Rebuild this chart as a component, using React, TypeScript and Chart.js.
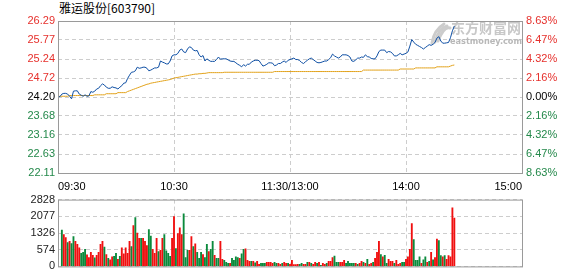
import React, { useEffect, useRef } from "react";
import { Chart, registerables } from "chart.js";
Chart.register(...registerables);

const TITLE = "雅运股份[603790]";
const WATERMARK_CN = "东方财富网";
const WATERMARK_EN = "eastmoney.com";

const PRICE_TICKS = [22.11, 22.63, 23.16, 23.68, 24.2, 24.72, 25.24, 25.77, 26.29];
const PCT_LABELS = ["8.63%", "6.47%", "4.32%", "2.16%", "0.00%", "2.16%", "4.32%", "6.47%", "8.63%"];
const TIME_TICKS = [0, 60, 120, 180, 240];
const TIME_LABELS = ["09:30", "10:30", "11:30/13:00", "14:00", "15:00"];
const VOL_TICK_LABELS = ["0", "574", "1326", "2077", "2828"];
const VOL_MAX = 2828;
const VOL_FIRST_MINUTE = 2;

// minute-by-minute price (from 09:30)
const PRICE = [
  24.21, 24.21, 24.28, 24.30, 24.30, 24.28, 24.22, 24.15, 24.36, 24.37,
  24.37, 24.28, 24.25, 24.22, 24.26, 24.22, 24.23, 24.35, 24.33, 24.36,
  24.42, 24.44, 24.51, 24.56, 24.53, 24.47, 24.44, 24.44, 24.48, 24.46,
  24.45, 24.42, 24.47, 24.51, 24.58, 24.59, 24.71, 24.80, 24.88, 24.89,
  24.92, 25.02, 24.99, 25.00, 25.02, 25.02, 24.99, 24.92, 24.94, 24.97,
  25.00, 25.00, 25.02, 25.19, 25.16, 25.14, 25.11, 25.11, 25.19, 25.33,
  25.36, 25.36, 25.40, 25.49, 25.52, 25.44, 25.42, 25.52, 25.58, 25.56,
  25.49, 25.47, 25.48, 25.36, 25.30, 25.34, 25.19, 25.25, 25.21, 25.18,
  25.18, 25.18, 25.23, 25.30, 25.24, 25.25, 25.25, 25.25, 25.22, 25.19,
  25.18, 25.18, 25.14, 25.10, 25.07, 25.03, 25.09, 25.05, 25.10, 25.10,
  25.16, 25.19, 25.21, 25.21, 25.20, 25.12, 25.05, 25.07, 25.10, 25.14,
  25.14, 25.13, 25.06, 25.08, 25.12, 25.12, 25.16, 25.19, 25.15, 25.21,
  25.23, 25.25, 25.27, 25.23, 25.23, 25.20, 25.15, 25.12, 25.17, 25.21,
  25.25, 25.27, 25.23, 25.19, 25.15, 25.14, 25.15, 25.17, 25.19, 25.19,
  25.23, 25.28, 25.38, 25.33, 25.30, 25.27, 25.30, 25.36, 25.36, 25.36,
  25.34, 25.30, 25.19, 25.18, 25.22, 25.27, 25.27, 25.30, 25.29, 25.36,
  25.31, 25.30, 25.26, 25.25, 25.25, 25.33, 25.45, 25.49, 25.49, 25.49,
  25.42, 25.45, 25.44, 25.40, 25.33, 25.33, 25.36, 25.40, 25.36, 25.38,
  25.40, 25.44, 25.60, 25.78, 25.71, 25.65, 25.62, 25.59, 25.56, 25.52,
  25.56, 25.60, 25.64, 25.62, 25.65, 25.70, 25.82, 25.86, 25.74, 25.68,
  25.68, 25.69, 25.70, 25.83, 26.02, 26.15,
];

// average price line
const AVG = [
  24.21, 24.22, 24.22, 24.22, 24.22, 24.22, 24.24, 24.24, 24.24, 24.24,
  24.24, 24.24, 24.24, 24.24, 24.24, 24.24, 24.24, 24.24, 24.24, 24.26,
  24.26, 24.26, 24.26, 24.26, 24.26, 24.29, 24.29, 24.29, 24.29, 24.29,
  24.29, 24.32, 24.32, 24.32, 24.32, 24.32, 24.35, 24.37, 24.39, 24.41,
  24.43, 24.45, 24.47, 24.49, 24.51, 24.53, 24.55, 24.56, 24.58, 24.59,
  24.60, 24.61, 24.62, 24.63, 24.64, 24.65, 24.66, 24.67, 24.68, 24.70,
  24.72, 24.73, 24.74, 24.75, 24.76, 24.77, 24.78, 24.79, 24.80, 24.81,
  24.82, 24.83, 24.83, 24.84, 24.84, 24.85, 24.85, 24.86, 24.87, 24.87,
  24.87, 24.87, 24.87, 24.87, 24.87, 24.87, 24.88, 24.88, 24.88, 24.88,
  24.88, 24.88, 24.88, 24.88, 24.88, 24.88, 24.88, 24.88, 24.88, 24.88,
  24.88, 24.88, 24.88, 24.88, 24.88, 24.88, 24.88, 24.88, 24.88, 24.88,
  24.88, 24.88, 24.90, 24.90, 24.90, 24.90, 24.90, 24.90, 24.90, 24.90,
  24.90, 24.90, 24.90, 24.90, 24.90, 24.90, 24.90, 24.90, 24.90, 24.90,
  24.90, 24.90, 24.90, 24.90, 24.90, 24.90, 24.90, 24.90, 24.90, 24.90,
  24.90, 24.90, 24.90, 24.90, 24.90, 24.90, 24.90, 24.90, 24.90, 24.90,
  24.90, 24.90, 24.90, 24.90, 24.90, 24.90, 24.90, 24.90, 24.94, 24.94,
  24.94, 24.94, 24.94, 24.94, 24.94, 24.94, 24.94, 24.94, 24.94, 24.94,
  24.94, 24.94, 24.94, 24.94, 24.94, 24.94, 24.94, 24.97, 24.97, 24.97,
  24.97, 24.97, 24.97, 24.97, 24.97, 25.00, 25.00, 25.00, 25.00, 25.00,
  25.00, 25.00, 25.00, 25.00, 25.00, 25.00, 25.03, 25.03, 25.03, 25.03,
  25.03, 25.03, 25.03, 25.05, 25.07, 25.08,
];

// volume per minute
const VOL = [
  1537, 1348, 1222, 1008, 1058, 970, 1260, 1058, 932, 781,
  554, 592, 718, 491, 378, 592, 466, 365, 466, 592,
  932, 1058, 819, 504, 340, 277, 403, 428, 554, 302,
  428, 781, 529, 781, 554, 1058, 844, 1726, 2066, 1411,
  1184, 1184, 1184, 1058, 882, 1562, 1285, 718, 554, 1184,
  630, 680, 1184, 1348, 655, 554, 428, 1184, 2104, 756,
  1386, 1638, 1348, 2230, 378, 680, 680, 1260, 844, 958,
  592, 340, 592, 504, 378, 932, 630, 718, 1058, 466,
  340, 340, 1058, 302, 252, 176, 126, 126, 340, 252,
  403, 378, 340, 529, 718, 743, 252, 214, 214, 214,
  151, 214, 88, 126, 126, 126, 176, 176, 176, 126,
  176, 126, 126, 88, 126, 176, 126, 126, 88, 252,
  76, 76, 88, 88, 126, 88, 88, 176, 176, 126,
  88, 176, 126, 176, 50, 126, 88, 126, 214, 214,
  378, 441, 176, 176, 176, 176, 252, 126, 214, 126,
  126, 126, 126, 88, 126, 214, 176, 126, 302, 88,
  126, 176, 340, 592, 1058, 504, 403, 466, 126, 302,
  214, 214, 126, 252, 88, 126, 176, 176, 302, 403,
  718, 1814, 1134, 252, 252, 403, 126, 277, 403, 176,
  214, 592, 277, 378, 1159, 1096, 454, 403, 454, 302,
  454, 403, 2482, 2041,
];

// r = up (red), g = down (green)
const VOL_SIDE = [
  "g", "r", "r", "g", "r", "g", "g", "r", "r", "r",
  "g", "g", "g", "r", "r", "r", "r", "g", "r", "r",
  "r", "r", "g", "r", "g", "r", "r", "g", "g", "r",
  "g", "r", "r", "r", "r", "r", "g", "r", "g", "r",
  "r", "g", "r", "r", "r", "g", "g", "r", "r", "r",
  "g", "r", "r", "g", "g", "g", "g", "r", "r", "g",
  "r", "r", "r", "g", "g", "g", "r", "r", "g", "r",
  "g", "g", "g", "r", "g", "g", "r", "g", "g", "r",
  "g", "g", "r", "r", "g", "g", "g", "r", "g", "g",
  "g", "g", "r", "g", "g", "r", "r", "r", "g", "r",
  "g", "r", "r", "g", "g", "g", "r", "r", "r", "r",
  "g", "g", "r", "r", "g", "r", "r", "g", "r", "r",
  "r", "r", "r", "g", "g", "r", "r", "g", "r", "g",
  "r", "r", "g", "r", "g", "r", "r", "g", "r", "r",
  "r", "g", "g", "g", "r", "r", "r", "g", "g", "g",
  "g", "g", "r", "g", "r", "r", "g", "r", "g", "r",
  "r", "g", "r", "r", "r", "g", "r", "g", "g", "r",
  "r", "r", "g", "r", "r", "r", "g", "g", "r", "r",
  "r", "r", "g", "g", "g", "g", "r", "g", "g", "r",
  "g", "r", "g", "r", "r", "g", "g", "r", "g", "r",
  "r", "r", "r", "r",
];

const FONT = "'Liberation Sans', Arial, sans-serif";
const BLUE = "#0d4ea3";
const ORANGE = "#e2a21a";
const RED = "#f01010";
const GREEN = "#0b8a3c";
const RED_T = "#e6302c";
const GREEN_T = "#23884a";
const GRID = "#cdcdcd";
const FRAME = "#9a9a9a";
const DASH = [4, 3];

const tickColor = (ctx: any) => (ctx.index < 4 ? GREEN_T : ctx.index === 4 ? "#000" : RED_T);

const framePlugin = {
  id: "frame",
  afterDatasetsDraw(chart: any) {
    const { ctx, chartArea: a } = chart;
    ctx.save();
    ctx.strokeStyle = FRAME;
    ctx.lineWidth = 1;
    ctx.setLineDash([]);
    ctx.strokeRect(a.left + 0.5, a.top + 0.5, a.right - a.left, a.bottom - a.top);
    ctx.restore();
  },
};

const watermarkPlugin = {
  id: "watermark",
  beforeDatasetsDraw(chart: any) {
    const { ctx, chartArea: a } = chart;
    const x0 = a.right - 95;
    const y0 = a.top;
    ctx.save();
    ctx.strokeStyle = "#cccccc";
    ctx.lineCap = "round";
    ctx.lineWidth = 3;
    for (let k = 0; k < 3; k++) {
      ctx.beginPath();
      ctx.moveTo(x0 + 5 + k * 3, y0 + 22 - k);
      ctx.quadraticCurveTo(x0 + 7 + k * 5, y0 + 9 - k * 2, x0 + 17 + k * 3, y0 + 3 + k * 2);
      ctx.stroke();
    }
    ctx.fillStyle = "#c8c8c8";
    ctx.font = "bold 14px 'Noto Sans CJK SC'";
    ctx.textBaseline = "top";
    ctx.fillText(WATERMARK_CN, x0 + 24, y0, 71);
    ctx.fillStyle = "#b8b8b8";
    ctx.font = "bold 9px 'DejaVu Sans'";
    ctx.fillText(WATERMARK_EN, x0 + 23, y0 + 16, 72);
    ctx.restore();
  },
};

export default function App() {
  const priceRef = useRef<HTMLCanvasElement>(null);
  const volRef = useRef<HTMLCanvasElement>(null);

  useEffect(() => {
    document.body.style.margin = "0";
    Chart.defaults.font.family = FONT;
    Chart.defaults.font.size = 11;
    Chart.defaults.color = "#000";

    const c1 = new Chart(priceRef.current as HTMLCanvasElement, {
      type: "line",
      data: {
        datasets: [
          {
            data: PRICE.map((v, i) => ({ x: i, y: v })),
            borderColor: BLUE,
            borderWidth: 1,
            pointRadius: 0,
            tension: 0,
            yAxisID: "y",
          },
          {
            data: AVG.map((v, i) => ({ x: i, y: v })),
            borderColor: ORANGE,
            borderWidth: 1,
            pointRadius: 0,
            tension: 0,
            yAxisID: "y",
          },
        ],
      },
      options: {
        responsive: false,
        animation: false,
        events: [],
        layout: { padding: { top: 21, left: 0, right: 0, bottom: 0 } },
        plugins: { legend: { display: false }, tooltip: { enabled: false } },
        scales: {
          x: {
            type: "linear",
            min: 0,
            max: 240,
            afterBuildTicks: (s: any) => {
              s.ticks = TIME_TICKS.map((v) => ({ value: v }));
            },
            afterFit: (s: any) => {
              s.height = 18;
            },
            ticks: {
              autoSkip: false,
              maxRotation: 0,
              align: "inner",
              padding: 7,
              color: "#000",
              callback: (_v: any, i: number) => TIME_LABELS[i],
            },
            grid: { color: GRID, drawTicks: false, lineWidth: 1 },
            border: { display: false, dash: DASH },
          },
          y: {
            position: "left",
            min: PRICE_TICKS[0],
            max: PRICE_TICKS[PRICE_TICKS.length - 1],
            afterBuildTicks: (s: any) => {
              s.ticks = PRICE_TICKS.map((v) => ({ value: v }));
            },
            afterFit: (s: any) => {
              s.width = 58;
            },
            ticks: {
              padding: 3,
              color: tickColor,
              callback: (_v: any, i: number) => PRICE_TICKS[i].toFixed(2),
            },
            grid: { color: GRID, drawTicks: false, lineWidth: 1 },
            border: { display: false, dash: DASH },
          },
          y2: {
            position: "right",
            min: PRICE_TICKS[0],
            max: PRICE_TICKS[PRICE_TICKS.length - 1],
            afterBuildTicks: (s: any) => {
              s.ticks = PRICE_TICKS.map((v) => ({ value: v }));
            },
            afterFit: (s: any) => {
              s.width = 56;
            },
            ticks: {
              padding: 4,
              color: tickColor,
              callback: (_v: any, i: number) => PCT_LABELS[i],
            },
            grid: { display: false, drawTicks: false },
            border: { display: false },
          },
        },
      } as any,
      plugins: [watermarkPlugin, framePlugin],
    });

    const c2 = new Chart(volRef.current as HTMLCanvasElement, {
      type: "bar",
      data: {
        datasets: [
          {
            data: VOL.map((v, i) => ({ x: i + VOL_FIRST_MINUTE, y: v })),
            backgroundColor: VOL_SIDE.map((s) => (s === "r" ? RED : GREEN)),
            borderWidth: 0,
            barThickness: 1.2,
          } as any,
        ],
      },
      options: {
        responsive: false,
        animation: false,
        events: [],
        layout: { padding: { top: 6, left: 0, right: 56, bottom: 5 } },
        plugins: { legend: { display: false }, tooltip: { enabled: false } },
        scales: {
          x: {
            type: "linear",
            min: 0,
            max: 240,
            offset: false,
            afterBuildTicks: (s: any) => {
              s.ticks = TIME_TICKS.map((v) => ({ value: v }));
            },
            afterFit: (s: any) => {
              s.height = 0;
            },
            ticks: { display: false },
            grid: { color: GRID, drawTicks: false, lineWidth: 1, offset: false },
            border: { display: false, dash: DASH },
          },
          y: {
            position: "left",
            min: 0,
            max: VOL_MAX,
            afterBuildTicks: (s: any) => {
              s.ticks = VOL_TICK_LABELS.map((_l, i) => ({ value: (VOL_MAX * i) / (VOL_TICK_LABELS.length - 1) }));
            },
            afterFit: (s: any) => {
              s.width = 58;
            },
            ticks: {
              padding: 3,
              color: "#222",
              callback: (_v: any, i: number) => VOL_TICK_LABELS[i],
            },
            grid: { color: GRID, drawTicks: false, lineWidth: 1 },
            border: { display: false, dash: DASH },
          },
        },
      } as any,
      plugins: [framePlugin],
    });

    return () => {
      c1.destroy();
      c2.destroy();
    };
  }, []);

  return (
    <div style={{ position: "relative", width: 578, height: 276, background: "#fff", overflow: "hidden" }}>
      <div
        style={{
          position: "absolute",
          left: 59,
          top: 0,
          fontFamily: "'Noto Sans CJK SC', sans-serif",
          fontSize: 12,
          lineHeight: "16px",
          color: "#000",
          whiteSpace: "nowrap",
        }}
      >
        {TITLE}
      </div>
      <canvas
        ref={priceRef}
        width={578}
        height={191}
        style={{ position: "absolute", left: 0, top: 0, width: 578, height: 191 }}
      />
      <canvas
        ref={volRef}
        width={578}
        height={86}
        style={{ position: "absolute", left: 0, top: 190, width: 578, height: 86 }}
      />
    </div>
  );
}
